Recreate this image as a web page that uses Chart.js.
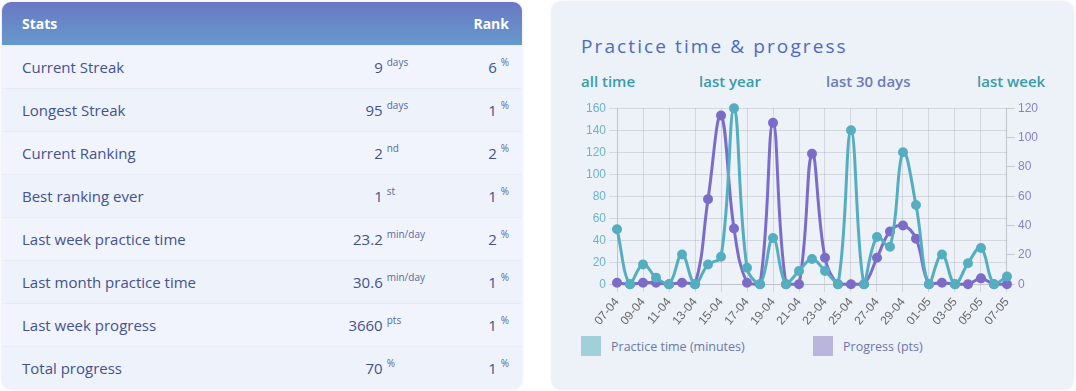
<!DOCTYPE html>
<html>
<head>
<meta charset="utf-8">
<script src="https://cdn.jsdelivr.net/npm/chart.js@4.4.0/dist/chart.umd.min.js"></script>
<style>
  html, body { margin: 0; padding: 0; background: #ffffff; width: 1076px; height: 391px; overflow: hidden; }
  body { position: relative; font-family: "Open Sans", "Noto Sans", sans-serif; }
  .card-left {
    position: absolute; left: 2px; top: 2px; width: 520px; height: 387px;
    background: #eef2fb; border-radius: 9px; overflow: hidden;
    box-shadow: 0 0 3px rgba(120,140,180,0.25);
  }
  .card-left table { border-collapse: collapse; width: 100%; }
  .card-left thead tr { height: 43px; background: linear-gradient(#6a78c3, #6699cc); }
  .card-left th { color: #fff; font-weight: 700; font-size: 14px; text-align: left; padding: 0 0 0 20px; }
  .card-left th.rank { text-align: right; padding: 0 13px 0 0; }
  .card-left tbody tr { height: 43px; border-top: 1px solid #e8ecf6; }
  .card-left tbody tr:nth-child(even) { background: #eef2fb; }
  .card-left tbody tr:nth-child(odd) { background: #f1f4fc; }
  .card-left td { color: #42538f; font-size: 15px; padding: 0; }
  td.lbl { padding-left: 20px; }
  td.num { text-align: right; width: 120px; }
  td.unit { text-align: left; width: 70px; padding-left: 4px; }
  td.rk { text-align: right; padding-right: 13px; }
  sup { font-size: 10px; vertical-align: 0; position: relative; top: -7px; color: #5a6a9c; }
  .card-right {
    position: absolute; left: 552px; top: 2px; width: 521px; height: 387px;
    background: #edf1f8; border-radius: 9px; box-shadow: 0 0 3px rgba(120,140,180,0.3);
  }
  .title { position: absolute; left: 29px; top: 31px; font-size: 19px; letter-spacing: 2.1px; color: #4a6cc4; white-space: nowrap; }
  .link { position: absolute; top: 69px; font-size: 15px; font-weight: 600; color: #3a9ca8; white-space: nowrap; }
  .link.alt { color: #6b7db9; }
  #chartWrap { position: absolute; left: 31px; top: 96px; width: 458px; height: 233px; }
  #legend { position: absolute; left: 29px; top: 334px; height: 22px; font-size: 12.5px; color: #6a78aa; }
  .li { position: absolute; top: 0; white-space: nowrap; display: flex; align-items: center; }
  .sw { width: 20px; height: 20px; display: inline-block; margin-right: 10px; }
</style>
</head>
<body>
<div class="card-left">
  <table>
    <thead><tr><th colspan="3" id="hStats"></th><th class="rank" id="hRank"></th></tr></thead>
    <tbody id="tb"></tbody>
  </table>
</div>
<div class="card-right">
  <div class="title" id="title"></div>
  <div class="link" style="left:29px">all time</div>
  <div class="link" style="left:147px">last year</div>
  <div class="link alt" style="left:274px">last 30 days</div>
  <div class="link" style="left:425px">last week</div>
  <div id="chartWrap"><canvas id="c"></canvas></div>
  <div id="legend"></div>
</div>
<script>
// ---- table data ----
const statLabels = ["Current Streak", "Longest Streak", "Current Ranking", "Best ranking ever", "Last week practice time", "Last month practice time", "Last week progress", "Total progress"];
const statValues = ["9", "95", "2", "1", "23.2", "30.6", "3660", "70"];
const statUnits = ["days", "days", "nd", "st", "min/day", "min/day", "pts", "%"];
const statRanks = ["6", "1", "2", "1", "2", "1", "1", "1"];

// ---- chart data ----
const dates = ["07-04","08-04","09-04","10-04","11-04","12-04","13-04","14-04","15-04","16-04","17-04","18-04","19-04","20-04","21-04","22-04","23-04","24-04","25-04","26-04","27-04","28-04","29-04","30-04","01-05","02-05","03-05","04-05","05-05","06-05","07-05"];
const practiceMinutes = [50,0,18,6,0,27,0,18,25,160,15,0,42,0,12,23,12,0,140,0,43,34,120,72,0,27,0,19,33,0,7];
const progressPts = [1,0,1,1,0,1,0,58,115,38,1,0,110,0,0,89,18,0,0,0,18,36,40,31,0,1,0,0,4,0,0];
const leftTicksMax = 160;
const rightTicksMax = 120;

document.getElementById('hStats').textContent = 'Stats';
document.getElementById('hRank').textContent = 'Rank';
document.getElementById('title').textContent = 'Practice time & progress';
const tb = document.getElementById('tb');
statLabels.forEach((l, i) => {
  const tr = document.createElement('tr');
  tr.innerHTML = `<td class="lbl">${l}</td><td class="num">${statValues[i]}</td><td class="unit"><sup>${statUnits[i]}</sup></td><td class="rk">${statRanks[i]} <sup>%</sup></td>`;
  tb.appendChild(tr);
});

const teal = '#55aec0';
const purple = '#7b6cc8';
const chart = new Chart(document.getElementById('c'), {
  type: 'line',
  data: {
    labels: dates,
    datasets: [
      { label: 'Practice time (minutes)', data: practiceMinutes, borderColor: teal, backgroundColor: '#a2cfd9', pointBackgroundColor: teal, pointBorderColor: teal, borderWidth: 3, pointRadius: 3.5, tension: 0.4, yAxisID: 'y', clip: false },
      { label: 'Progress (pts)', data: progressPts, borderColor: purple, backgroundColor: '#b9b5dd', pointBackgroundColor: purple, pointBorderColor: purple, borderWidth: 3, pointRadius: 3.5, tension: 0.4, yAxisID: 'y1', clip: false }
    ]
  },
  options: {
    responsive: true, maintainAspectRatio: false, animation: false,
    layout: { padding: { left: 0, right: 0, top: 4, bottom: 0 } },
    plugins: { legend: { display: false }, tooltip: { enabled: false } },
    scales: {
      x: {
        ticks: { color: '#666', font: { size: 12 }, maxRotation: 50, minRotation: 50, autoSkip: true },
        grid: { color: 'rgba(0,0,0,0.1)' }
      },
      y: {
        position: 'left', min: 0, max: leftTicksMax,
        ticks: { stepSize: 20, color: '#6cb4c9', font: { size: 12 } },
        grid: { color: 'rgba(0,0,0,0.1)' }
      },
      y1: {
        position: 'right', min: 0, max: rightTicksMax,
        ticks: { stepSize: 20, color: '#8a82c6', font: { size: 12 } },
        grid: { drawOnChartArea: false, color: 'rgba(0,0,0,0.15)' }
      }
    }
  }
});

// HTML legend from the chart's own legend items
const lg = document.getElementById('legend');
const items = chart.options.plugins.legend.labels.generateLabels(chart);
const lefts = [0, 232];
items.forEach((it, i) => {
  const d = document.createElement('div');
  d.className = 'li';
  d.style.left = lefts[i] + 'px';
  d.innerHTML = `<span class="sw" style="background:${chart.data.datasets[i].backgroundColor}"></span><span>${it.text}</span>`;
  lg.appendChild(d);
});
</script>
</body>
</html>
